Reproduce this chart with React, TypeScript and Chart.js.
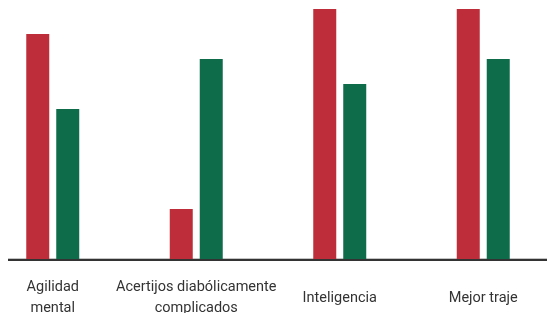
import React, { useEffect, useRef } from "react";
import { Chart, registerables } from "chart.js";

Chart.register(...registerables);

const categories: (string | string[])[] = [
  ["Agilidad", "mental"],
  ["Acertijos diabólicamente", "complicados"],
  "Inteligencia",
  "Mejor traje",
];
const seriesRed = [9, 2, 10, 10];
const seriesGreen = [6, 8, 7, 8];

const RED = "#BE2E3A";
const GREEN = "#0E6C4A";

const axisLinePlugin = {
  id: "axisLine",
  beforeDatasetsDraw(chart: any) {
    const { ctx, chartArea, width } = chart;
    ctx.save();
    ctx.fillStyle = "#c4c4c4";
    ctx.fillRect(27, chartArea.bottom - 1, width - 27, 1);
    ctx.restore();
  },
  afterDatasetsDraw(chart: any) {
    const { ctx, chartArea, width } = chart;
    ctx.save();
    ctx.fillStyle = "#333333";
    ctx.fillRect(27, chartArea.bottom, width - 27, 2);
    ctx.restore();
  },
};

export default function App() {
  const ref = useRef<HTMLCanvasElement | null>(null);
  useEffect(() => {
    if (!ref.current) return;
    const chart = new Chart(ref.current, {
      type: "bar",
      data: {
        labels: categories,
        datasets: [
          { label: "A", data: seriesRed, backgroundColor: RED, borderWidth: 0 },
          { label: "B", data: seriesGreen, backgroundColor: GREEN, borderWidth: 0 },
        ],
      },
      options: {
        animation: false,
        responsive: true,
        maintainAspectRatio: false,
        layout: { padding: { top: 9, left: 0, right: 0, bottom: 0 } },
        datasets: {
          bar: { categoryPercentage: 0.418, barPercentage: 0.7667 },
        },
        plugins: { legend: { display: false }, tooltip: { enabled: false } },
        scales: {
          x: {
            offset: true,
            border: { display: false },
            grid: { display: false, drawTicks: false },
            ticks: {
              autoSkip: false,
              maxRotation: 0,
              minRotation: 0,
              crossAlign: "center",
              padding: 28.5,
              color: "#333333",
              font: { family: "Roboto", size: 14.5, lineHeight: "21px" },
            },
            afterFit(scale: any) {
              scale.height = 54;
            },
          },
          y: {
            display: false,
            min: 0,
            max: 10,
          },
        },
      },
      plugins: [axisLinePlugin],
    });
    return () => chart.destroy();
  }, []);
  return (
    <div style={{ position: "fixed", left: -19, top: 0, width: 574, height: 313 }}>
      <canvas ref={ref} />
    </div>
  );
}
